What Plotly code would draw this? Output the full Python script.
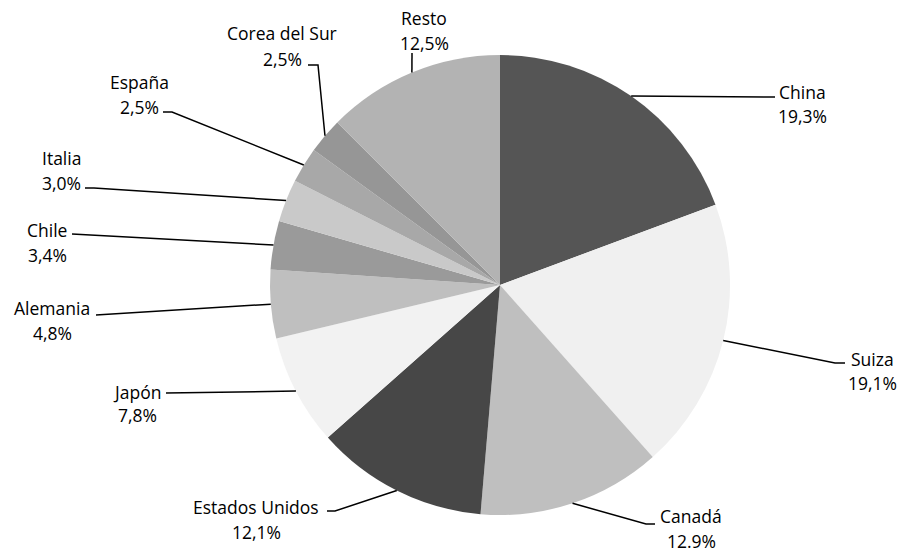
import math
import plotly.graph_objects as go

# ---- data ----
countries = ["China", "Suiza", "Canadá", "Estados Unidos", "Japón", "Alemania",
             "Chile", "Italia", "España", "Corea del Sur", "Resto"]
shares = [19.3, 19.1, 12.9, 12.1, 7.8, 4.8, 3.4, 3.0, 2.5, 2.5, 12.5]
pct_labels = ["19,3%", "19,1%", "12.9%", "12,1%", "7,8%", "4,8%",
              "3,4%", "3,0%", "2,5%", "2,5%", "12,5%"]

# ---- styles ----
colors = ["#555555", "#f0f0f0", "#bfbfbf", "#474747", "#f2f2f2", "#bfbfbf",
          "#9a9a9a", "#c9c9c9", "#a8a8a8", "#969696", "#b3b3b3"]

W, H = 901, 554
CX, CY, R = 500, 285, 230

# label layout in pixels: text center x, name line y, pct line y,
# leader start (x, y), bend x
label_layout = [
    (802, 92, 116, 775, 97, 775),     # China
    (872, 359, 383, 845, 363, 835),   # Suiza
    (691, 516, 541, 655, 524, 646),   # Canadá
    (256, 507, 532, 327, 511, 335),   # Estados Unidos
    (137, 392, 415, 166, 393, 166),   # Japón
    (52, 308, 333, 96, 315, 96),      # Alemania
    (47, 230, 255, 72, 234, 72),      # Chile
    (61, 158, 183, 85, 188, 94),      # Italia
    (139, 82, 107, 163, 112, 172),    # España
    (282, 33, 59, 308, 65, 318),      # Corea del Sur
    (424, 18, 43, 412, 53, 412),      # Resto
]

FONT = "Open Sans"
FS = 17.5


def px(x):
    return x / W


def py(y):
    return 1 - y / H


fig = go.Figure()
fig.add_trace(go.Pie(
    values=shares, labels=countries, sort=False, direction="clockwise",
    rotation=0, marker=dict(colors=colors, line=dict(width=0)),
    textinfo="none", hoverinfo="label+percent", showlegend=False,
    domain=dict(x=[(CX - R) / W, (CX + R) / W],
                y=[(H - CY - R) / H, (H - CY + R) / H]),
))

total = sum(shares)
cum = 0.0
shapes = []
annotations = []
for name, val, pct, lay in zip(countries, shares, pct_labels, label_layout):
    mid = (cum + val / 2) / total
    cum += val
    ang = 2 * math.pi * mid
    ex = CX + R * math.sin(ang)
    ey = CY - R * math.cos(ang)
    tx, ny, pyl, sx, sy, bx = lay
    path = f"M {px(sx)},{py(sy)} L {px(bx)},{py(sy)} L {px(ex)},{py(ey)}"
    shapes.append(dict(type="path", path=path, xref="paper", yref="paper",
                       line=dict(color="black", width=1.5), layer="above"))
    for txt, yy in ((name, ny), (pct, pyl)):
        annotations.append(dict(text=txt, x=px(tx), y=py(yy), xref="paper",
                                yref="paper", xanchor="center", yanchor="middle",
                                showarrow=False,
                                font=dict(family=FONT, size=FS, color="black")))

fig.update_layout(
    width=W, height=H, margin=dict(l=0, r=0, t=0, b=0),
    paper_bgcolor="white", plot_bgcolor="white",
    shapes=shapes, annotations=annotations,
)
fig.write_html("out.html")
